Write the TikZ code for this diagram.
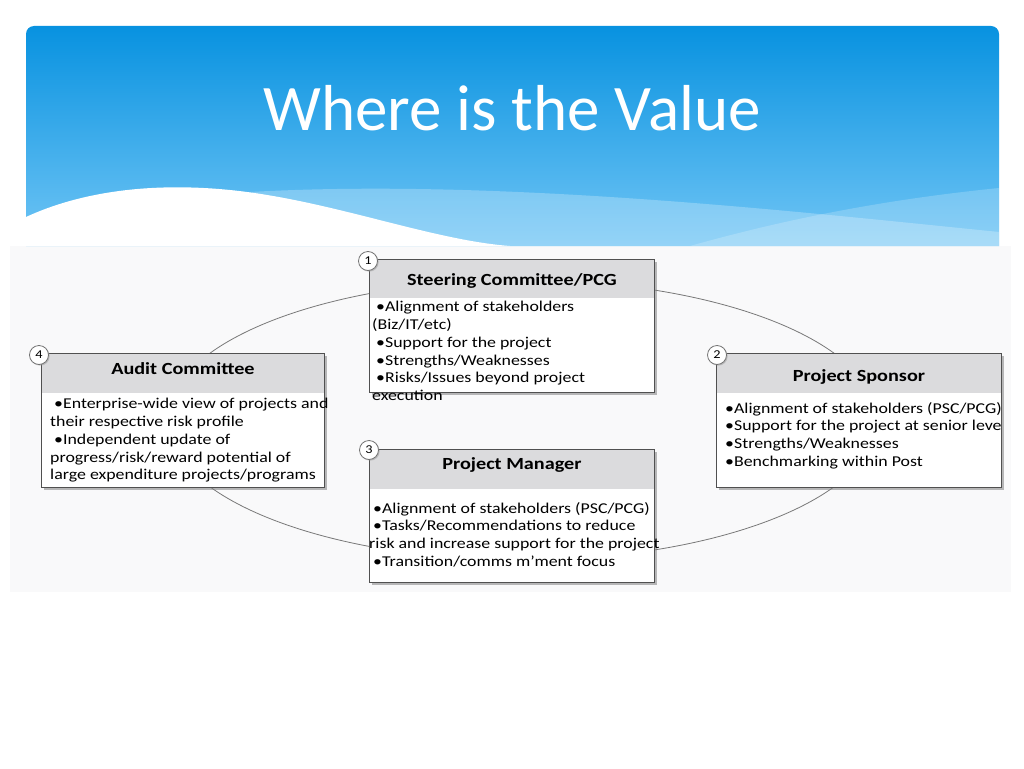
\documentclass[tikz,border=0pt]{standalone}
\usepackage{fontspec}
\setmainfont{Carlito}
\newfontfamily\widefont[FakeStretch=1.19]{Carlito}
\usetikzlibrary{shadows}

\definecolor{skytop}{RGB}{8,146,224}
\definecolor{skybot}{RGB}{112,197,245}
\definecolor{hdrgray}{RGB}{219,219,221}
\definecolor{boxedge}{RGB}{80,80,80}
\definecolor{ringgray}{RGB}{120,120,120}
\definecolor{bggray}{RGB}{249,249,250}

\newcommand{\bul}{\hspace*{4pt}•}

\tikzset{
    cbox/.style={draw=boxedge, fill=white, line width=0.9pt, anchor=north west,
        minimum width=285pt, minimum height=133pt, inner sep=0pt,
        drop shadow={shadow xshift=2.5pt, shadow yshift=-2.5pt, fill=black!50, opacity=0.55}},
    badge/.style={circle, draw=black!55, fill=white, line width=0.8pt, minimum size=19pt,
        inner sep=0pt, font=\widefont\fontsize{12}{12}\selectfont,
        drop shadow={shadow xshift=1.2pt, shadow yshift=-1.2pt, fill=black!40, opacity=0.5}},
    ttl/.style={font=\widefont\bfseries\fontsize{17}{20}\selectfont, inner sep=0pt},
    body/.style={align=left, anchor=north west, inner sep=0pt, font=\widefont\fontsize{15}{17.8}\selectfont}
}

\begin{document}
\begin{tikzpicture}[x=1pt, y=1pt]
    \useasboundingbox (0,0) rectangle (1024,-768);
    \fill[white] (0,0) rectangle (1024,-768);
    \fill[bggray] (10,-246) rectangle (1011,-592);

    % banner
    \shade[top color=skytop, bottom color=skybot]
        (26,-246) -- (26,-34) arc[start angle=180, end angle=90, radius=8pt]
        -- (991,-26) arc[start angle=90, end angle=0, radius=8pt] -- (999,-246) -- cycle;
    \fill[white, opacity=0.25] (250,-192) .. controls (500,-178) and (800,-212) .. (999,-232)
        -- (999,-246) -- (420,-246) -- cycle;
    \fill[white, opacity=0.2] (690,-246) .. controls (800,-215) and (900,-198) .. (999,-188)
        -- (999,-246) -- cycle;
    \fill[white] (26,-217) .. controls (80,-192) and (150,-182) .. (230,-190)
        .. controls (330,-200) and (430,-240) .. (510,-246) -- (26,-246) -- cycle;
    \node[text=white, font=\fontsize{65}{65}\selectfont] (title) at (512,-108) {Where is the Value};

    % ring behind the boxes
    \coordinate (ring) at (522,-420);
    \draw[ringgray, line width=0.8pt] (ring) ellipse [x radius=355pt, y radius=140pt];

    % boxes
    \node[cbox] (steer) at (369,-259) {};
    \node[cbox, minimum width=283pt, minimum height=134pt] (audit) at (41,-353) {};
    \node[cbox, minimum height=134pt] (sponsor) at (716,-353) {};
    \node[cbox] (manager) at (369,-449) {};

    \foreach \b/\h in {steer/39, audit/40, sponsor/40, manager/40}{
        \fill[hdrgray] ([xshift=0.5pt, yshift=-0.5pt]\b.north west) rectangle ([xshift=-0.5pt, yshift=-\h pt]\b.north east);
    }

    \node[badge] (n1) at ([xshift=-1pt, yshift=-2pt]steer.north west) {1};
    \node[badge] (n4) at ([xshift=-2pt, yshift=-2pt]audit.north west) {4};
    \node[badge] (n2) at ([xshift=1pt, yshift=-2pt]sponsor.north west) {2};
    \node[badge] (n3) at ([xshift=0pt, yshift=-1pt]manager.north west) {3};

    % titles
    \node[ttl] (steer-t) at ([yshift=-22pt]steer.north) {Steering Committee/PCG};
    \node[ttl] (audit-t) at ([yshift=-16pt]audit.north) {Audit Committee};
    \node[ttl] (sponsor-t) at ([yshift=-24pt]sponsor.north) {Project Sponsor};
    \node[ttl] (manager-t) at ([yshift=-16pt]manager.north) {Project Manager};

    % bodies
    \node[body] (steer-b) at (372,-301) {\bul Alignment of stakeholders\\(Biz/IT/etc)\\\bul Support for the project\\
        \bul Strengths/Weaknesses\\\bul Risks/Issues beyond project\\execution};
    \node[body] (audit-b) at (50,-398) {\bul Enterprise-wide view of projects and\\their respective risk profile\\
        \bul Independent update of\\progress/risk/reward potential of\\large expenditure projects/programs};
    \begin{scope}
        \clip (sponsor.north west) rectangle ([xshift=-1pt]sponsor.south east);
        \node[body] (sponsor-b) at (721,-402) {\bul Alignment of stakeholders (PSC/PCG)\\\bul Support for the project at senior level\\
            \bul Strengths/Weaknesses\\\bul Benchmarking within Post};
    \end{scope}
    \node[body] (manager-b) at (369,-502) {\bul Alignment of stakeholders (PSC/PCG)\\\bul Tasks/Recommendations to reduce\\
        risk and increase support for the project\\\bul Transition/comms m’ment focus};
\end{tikzpicture}
\end{document}
